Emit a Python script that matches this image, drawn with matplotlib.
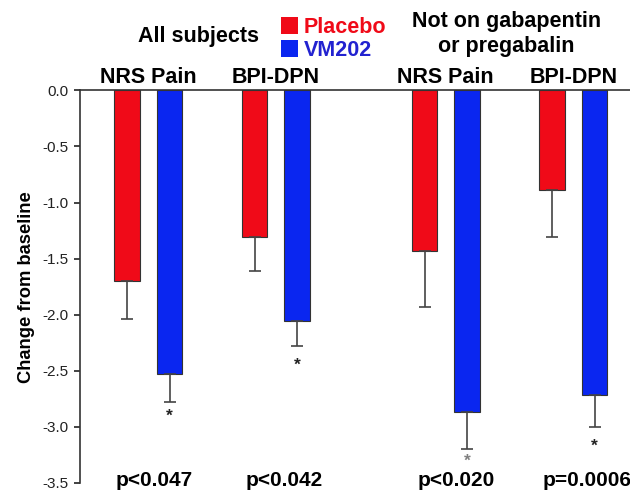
import numpy as np
import matplotlib.pyplot as plt
from matplotlib.patches import Patch

plt.rcParams["font.family"] = ["Liberation Sans", "DejaVu Sans"]

# data (change from baseline)
measures = ["NRS Pain", "BPI-DPN"]
all_placebo = [-1.70, -1.31]
all_placebo_err = [0.34, 0.30]
all_vm202 = [-2.53, -2.06]
all_vm202_err = [0.245, 0.22]
notgp_placebo = [-1.43, -0.89]
notgp_placebo_err = [0.50, 0.42]
notgp_vm202 = [-2.87, -2.72]
notgp_vm202_err = [0.33, 0.28]
p_values = ["p<0.047", "p<0.042", "p<0.020", "p=0.0006"]
star_colors = ["#222222", "#222222", "#808080", "#222222"]

red = "#F00A18"
blue = "#0A26F0"

# bar slots: each measure is a placebo/VM202 pair
pair_left = np.array([0, 3, 7, 10])
placebo = all_placebo + notgp_placebo
placebo_err = all_placebo_err + notgp_placebo_err
vm202 = all_vm202 + notgp_vm202
vm202_err = all_vm202_err + notgp_vm202_err

fig = plt.figure(figsize=(6.3, 4.92), dpi=100)
ax = fig.add_axes([0.127, 0.0183, 0.873, 0.798])

w = 0.61
err_kw = dict(ecolor="#444444", elinewidth=1.2, capsize=4.3, capthick=1.2)
zeros = np.zeros(4)
# one-sided error bars, pointing away from zero
ax.bar(pair_left, placebo, w, color=red, edgecolor="#333333", linewidth=0.8,
       yerr=[placebo_err, zeros], error_kw=err_kw)
ax.bar(pair_left + 1, vm202, w, color=blue, edgecolor="#333333", linewidth=0.8,
       yerr=[vm202_err, zeros], error_kw=err_kw)

ax.set_xlim(-1.106, 11.835)
ax.set_ylim(-3.5, 0)
ax.set_yticks(np.arange(-3.5, 0.01, 0.5))
ax.set_yticklabels([f"{v:.1f}" for v in np.arange(-3.5, 0.01, 0.5)])
ax.set_xticks([])
ax.tick_params(axis="y", direction="out", length=4.3, width=1.2, pad=4,
               labelsize=11, colors="#222222")
ax.spines["right"].set_visible(False)
ax.spines["bottom"].set_visible(False)
for s in ["left", "top"]:
    ax.spines[s].set_linewidth(1.2)
    ax.spines[s].set_color("#333333")

ax.set_ylabel("Change from baseline", fontsize=13.2, fontweight="bold",
              labelpad=5)

# measure labels above each pair
centers = pair_left + 0.5
for i, c in enumerate(centers):
    ax.text(c, 0.068, measures[i % 2], ha="center", va="baseline",
            fontsize=15.5, fontweight="bold", clip_on=False)

# significance stars under VM202 error bars
star_y = [-2.945, -2.49, -3.345, -3.215]
for i in range(4):
    ax.text(pair_left[i] + 1, star_y[i], "*", ha="center", va="baseline",
            fontsize=12.5, fontweight="bold", color=star_colors[i], clip_on=False)

# p-values
p_x = [0.63, 3.69, 7.74, 10.82]
for x, p in zip(p_x, p_values):
    ax.text(x, -3.527, p, ha="center", va="baseline", fontsize=15,
            fontweight="bold", clip_on=False)

# group titles
ax.text(1.69, 0.433, "All subjects", ha="center", va="baseline",
        fontsize=15.5, fontweight="bold", clip_on=False)
ax.text(8.93, 0.567, "Not on gabapentin", ha="center", va="baseline",
        fontsize=15.5, fontweight="bold", clip_on=False)
ax.text(8.93, 0.344, "or pregabalin", ha="center", va="baseline",
        fontsize=15.5, fontweight="bold", clip_on=False)

# legend
handles = [Patch(facecolor=red, edgecolor="none"),
           Patch(facecolor=blue, edgecolor="none")]
ax.legend(handles, ["Placebo", "VM202"], loc="center left",
          bbox_to_anchor=(0.365, 1.131), frameon=False, borderpad=0,
          borderaxespad=0, handlelength=0.8, handleheight=0.8,
          handletextpad=0.25, labelspacing=0.1,
          labelcolor=[red, "#2222D0"],
          prop={"size": 15.5, "weight": "bold"})

fig.savefig("out.png", dpi=100)
